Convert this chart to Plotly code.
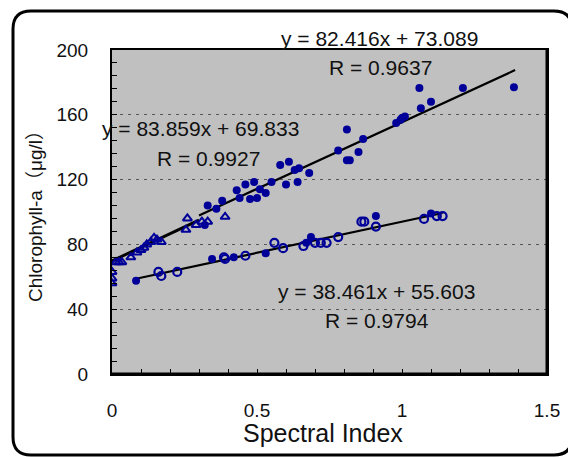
import plotly.graph_objects as go

# ---- data ----
tri_x = [0.0, 0.0, 0.0, 0.014, 0.024, 0.034, 0.065, 0.086, 0.10, 0.11, 0.12, 0.134, 0.145, 0.155, 0.17,
         0.255, 0.26, 0.29, 0.31, 0.33, 0.39]
tri_y = [63, 59, 56, 69, 69, 69, 72, 75, 76.5, 78, 80, 81.5, 84, 83, 81.5,
         89, 96, 92, 94, 94, 97]

fill_x = [0.32, 0.33, 0.36, 0.38, 0.43, 0.44, 0.46, 0.476, 0.49, 0.50, 0.51, 0.53, 0.55, 0.58, 0.60,
          0.61, 0.63, 0.64, 0.645, 0.68, 0.78, 0.81, 0.81, 0.82, 0.85, 0.866, 0.98, 0.995, 1.0,
          1.01, 1.06, 1.065, 1.1, 1.21, 1.386]
fill_y = [92, 104, 102, 107, 113.5, 108.6, 117, 108, 118.5, 108.6, 114, 111.7, 118.5, 129, 117,
          131, 126, 118.5, 127, 124, 138, 151, 132, 132, 137, 145, 155, 157, 158,
          159, 176.5, 164, 168, 176.5, 177]

oc_x = [0.16, 0.17, 0.225, 0.386, 0.39, 0.46, 0.56, 0.59, 0.66, 0.70, 0.72, 0.74, 0.78, 0.86, 0.87,
        0.91, 1.076, 1.12, 1.14]
oc_y = [63, 60.5, 63, 72, 71, 73, 81, 77.7, 79, 81, 81, 81, 84.5, 94, 94,
        91, 95.7, 97.5, 97.5]

lf_x = [0.083, 0.345, 0.42, 0.53, 0.67, 0.686, 0.91, 1.1]
lf_y = [57.5, 71, 72, 74.5, 81, 84.5, 97.5, 99]

# trend lines (end points)
line1_x = [0.0, 0.30]
line1_y = [69.8, 95.0]
line2_x = [0.30, 1.39]
line2_y = [97.8, 187.6]
line3_x = [0.083, 1.14]
line3_y = [58.8, 99.4]

eq_texts = ["y = 82.416x + 73.089", "R = 0.9637",
            "y = 83.859x + 69.833", "R = 0.9927",
            "y = 38.461x + 55.603", "R = 0.9794"]

x_tickvals = [0, 0.5, 1, 1.5]
x_ticktext = ["0", "0.5", "1", "1.5"]
y_tickvals = [0, 40, 80, 120, 160, 200]

NAVY = "rgb(0,0,153)"
FONT = "Liberation Sans, Arial, sans-serif"

# page offset (browser body margin) compensation
OFF = 8
# plot area in reference pixels
L, R, T, B = 112 - OFF, 547 - OFF, 50 - OFF, 374 - OFF
W, H = 576, 457


def paper(xp, yp):
    xp -= OFF
    yp -= OFF
    return (xp - L) / (R - L), (B - yp) / (B - T)


fig = go.Figure()

fig.add_trace(go.Scatter(x=line1_x, y=line1_y, mode="lines",
                         line=dict(color="black", width=3), hoverinfo="skip"))
fig.add_trace(go.Scatter(x=line2_x, y=line2_y, mode="lines",
                         line=dict(color="black", width=2.2), hoverinfo="skip"))
fig.add_trace(go.Scatter(x=line3_x, y=line3_y, mode="lines",
                         line=dict(color="black", width=2.2), hoverinfo="skip"))

fig.add_trace(go.Scatter(x=tri_x, y=tri_y, mode="markers",
                         marker=dict(symbol="triangle-up-open", size=8, color=NAVY,
                                     line=dict(width=2, color=NAVY))))
fig.add_trace(go.Scatter(x=fill_x, y=fill_y, mode="markers",
                         marker=dict(symbol="circle", size=8, color=NAVY,
                                     line=dict(width=0))))
fig.add_trace(go.Scatter(x=oc_x, y=oc_y, mode="markers",
                         marker=dict(symbol="circle-open", size=8, color=NAVY,
                                     line=dict(width=2.2, color=NAVY))))
fig.add_trace(go.Scatter(x=lf_x, y=lf_y, mode="markers",
                         marker=dict(symbol="circle", size=8, color=NAVY,
                                     line=dict(width=0))))

# annotations: equations
eq_pos = [(379, 38), (380, 67), (200, 129), (208, 158), (376, 291), (377, 320)]
annos = []
for txt, (xp, yp) in zip(eq_texts, eq_pos):
    xx, yy = paper(xp, yp)
    annos.append(dict(x=xx, y=yy, xref="paper", yref="paper", text=txt, showarrow=False,
                      font=dict(family=FONT, size=21, color="#111"),
                      xanchor="center", yanchor="middle"))

# axis titles
xx, yy = paper(323, 433)
annos.append(dict(x=xx, y=yy, xref="paper", yref="paper", text="Spectral Index",
                  showarrow=False, font=dict(family=FONT, size=25, color="#111"),
                  xanchor="center", yanchor="middle"))
xx, yy = paper(35, 212)
annos.append(dict(x=xx, y=yy, xref="paper", yref="paper", text="Chlorophyll-a（μg/l）",
                  showarrow=False, textangle=-90,
                  font=dict(family=FONT + ", Noto Sans CJK JP", size=19, color="#111"),
                  xanchor="center", yanchor="middle"))

# outer rounded frame
fx0, fy0, fx1, fy1, rr = 13, 11, 572, 455, 18


def P(xp, yp):
    a, b = paper(xp, yp)
    return f"{a:.5f},{b:.5f}"


path = (f"M {P(fx0 + rr, fy0)} L {P(fx1 - rr, fy0)} Q {P(fx1, fy0)} {P(fx1, fy0 + rr)} "
        f"L {P(fx1, fy1 - rr)} Q {P(fx1, fy1)} {P(fx1 - rr, fy1)} "
        f"L {P(fx0 + rr, fy1)} Q {P(fx0, fy1)} {P(fx0, fy1 - rr)} "
        f"L {P(fx0, fy0 + rr)} Q {P(fx0, fy0)} {P(fx0 + rr, fy0)} Z")

shapes = [
    dict(type="path", path=path, xref="paper", yref="paper",
         line=dict(color="black", width=3), layer="below"),
    # heavier right and bottom edges of plot area
    dict(type="line", xref="paper", yref="paper", x0=1, x1=1, y0=0, y1=1,
         line=dict(color="black", width=3)),
    dict(type="line", xref="paper", yref="paper", x0=0, x1=1, y0=0, y1=0,
         line=dict(color="black", width=3)),
]

fig.update_layout(
    width=W, height=H,
    margin=dict(l=L, r=W - R, t=T, b=H - B, pad=0, autoexpand=False),
    paper_bgcolor="white", plot_bgcolor="#C0C0C0",
    showlegend=False,
    annotations=annos, shapes=shapes,
    font=dict(family=FONT, color="#111"),
)

fig.update_xaxes(range=[0, 1.5], tickvals=x_tickvals, ticktext=x_ticktext,
                 showgrid=False, zeroline=False, automargin=False,
                 showline=True, mirror=True, linecolor="black", linewidth=2,
                 ticks="inside", ticklen=5, tickcolor="black", tickwidth=1,
                 minor=dict(dtick=0.1, ticks="inside", ticklen=5, tickcolor="black", showgrid=False),
                 ticklabelstandoff=18,
                 tickfont=dict(family=FONT, size=19, color="#111"))
fig.update_yaxes(range=[0, 200], tickvals=y_tickvals,
                 showgrid=True, gridcolor="#555", griddash="3px,5px", gridwidth=1,
                 zeroline=False, automargin=False,
                 showline=True, mirror=True, linecolor="black", linewidth=2,
                 ticks="inside", ticklen=5, tickcolor="black", tickwidth=1,
                 minor=dict(dtick=8, ticks="inside", ticklen=5, tickcolor="black", showgrid=False),
                 ticklabelstandoff=18,
                 tickfont=dict(family=FONT, size=19, color="#111"))

fig.write_html("out.html")
